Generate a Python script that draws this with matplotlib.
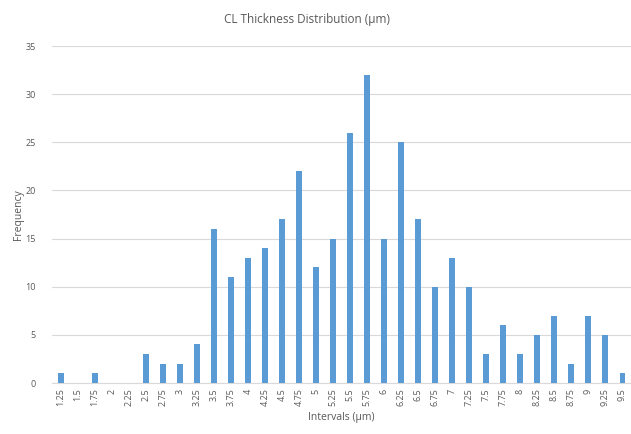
import numpy as np
import matplotlib.pyplot as plt

plt.rcParams['font.family'] = ['Open Sans', 'DejaVu Sans']

intervals = ["1.25", "1.5", "1.75", "2", "2.25", "2.5", "2.75", "3", "3.25", "3.5",
             "3.75", "4", "4.25", "4.5", "4.75", "5", "5.25", "5.5", "5.75", "6",
             "6.25", "6.5", "6.75", "7", "7.25", "7.5", "7.75", "8", "8.25", "8.5",
             "8.75", "9", "9.25", "9.5"]
frequency = [1, 0, 1, 0, 0, 3, 2, 2, 4, 16,
             11, 13, 14, 17, 22, 12, 15, 26, 32, 15,
             25, 17, 10, 13, 10, 3, 6, 3, 5, 7,
             2, 7, 5, 1]
y_ticks = [0, 5, 10, 15, 20, 25, 30, 35]

grey = '#595959'

fig = plt.figure(figsize=(6.31, 4.34), dpi=100)
ax = fig.add_axes([0.083, 0.1175, 0.917, 0.7765])

x = np.arange(len(intervals))
ax.bar(x, frequency, width=0.35, color='#5B9BD5', zorder=3)

ax.set_xlim(-0.5, len(intervals) - 0.5)
ax.set_ylim(0, 35)
ax.set_yticks(y_ticks)
ax.set_xticks(x)
ax.set_xticklabels(intervals, rotation=90, fontsize=6.5, color=grey)
ax.tick_params(axis='y', labelsize=6.5, labelcolor=grey, length=0, pad=12)
ax.tick_params(axis='x', length=0, pad=4)
ax.yaxis.grid(True, color='#D9D9D9', linewidth=0.8, zorder=0)

for s in ['top', 'right', 'left']:
    ax.spines[s].set_visible(False)
ax.spines['bottom'].set_color('#D9D9D9')

fig.text(0.487, 0.955, "CL Thickness Distribution (μm)", fontsize=8.5,
         color=grey, ha='center', va='center')
ax.set_xlabel("Intervals (μm)", fontsize=7.5, color=grey, labelpad=4)
ax.set_ylabel("Frequency", fontsize=7.5, color=grey, labelpad=1)

fig.savefig("out.png", dpi=100)
